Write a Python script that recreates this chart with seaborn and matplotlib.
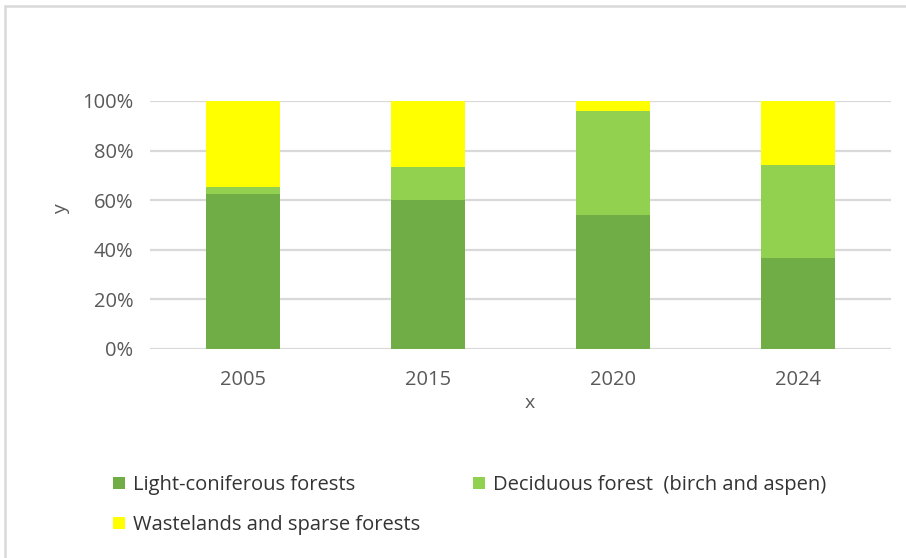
import matplotlib
matplotlib.use("Agg")
import matplotlib.pyplot as plt
from matplotlib.patches import Patch
from matplotlib.lines import Line2D
import seaborn as sns
import pandas as pd
import numpy as np

years = ["2005", "2015", "2020", "2024"]
light_coniferous = [62.5, 60.0, 54.0, 36.5]
deciduous = [2.7, 13.2, 42.0, 37.7]
wastelands = [34.8, 26.8, 4.0, 25.8]
series_names = ["Light-coniferous forests", "Deciduous forest  (birch and aspen)",
                 "Wastelands and sparse forests"]
colors = ["#70AD47", "#92D050", "#FFFF00"]
y_ticks = [0, 20, 40, 60, 80, 100]

sns.set_theme(style="white")
plt.rcParams['font.family'] = ['Open Sans', 'DejaVu Sans']

fig = plt.figure(figsize=(9.06, 5.58), dpi=100)
ax = fig.add_axes([150/906, 1-349/558, 741/906, 248/558])

df = pd.DataFrame({"year": years, "a": light_coniferous, "b": deciduous, "c": wastelands})
df["ab"] = df["a"] + df["b"]
df["abc"] = df["ab"] + df["c"]
total = df["abc"].values
for col in ["a", "ab", "abc"]:
    df[col] = df[col] / total * 100

for col, colr in zip(["abc", "ab", "a"], colors[::-1]):
    sns.barplot(data=df, x="year", y=col, order=years, color=colr, width=0.4,
                saturation=1, ax=ax, linewidth=0, zorder=3)

ax.set_ylim(0, 100)
ax.set_xlim(-0.5, 3.5)
ax.set_yticks(y_ticks)
ax.set_yticklabels([f"{t}%" for t in y_ticks])
for s in ax.spines.values():
    s.set_visible(False)
ax.yaxis.grid(True, color="#D9D9D9", linewidth=1.6, zorder=0)
ax.set_axisbelow(True)
ax.tick_params(axis="both", length=0, labelsize=14.5, colors="#595959")
ax.tick_params(axis="y", pad=12)
ax.tick_params(axis="x", pad=15)
ax.set_xlabel("x", fontsize=14, color="#595959")
ax.set_ylabel("y", fontsize=14, color="#595959")
ax.xaxis.set_label_coords(0.513, -0.18)
ax.yaxis.set_label_coords(-0.108, 0.565)

handles = [Patch(facecolor=c, edgecolor="none") for c in colors]
order = [0, 2, 1]
leg = fig.legend([handles[i] for i in order], [series_names[i] for i in order],
                 ncol=2, loc="upper left", bbox_to_anchor=(113/906, 1-475/558),
                 frameon=False, borderpad=0, borderaxespad=0,
                 handlelength=0.6, handleheight=0.6, handletextpad=0.4,
                 columnspacing=2.6, labelspacing=1.0,
                 prop={"family": ["Open Sans"], "size": 14.5})
for t in leg.get_texts():
    t.set_color("#333333")

fig.add_artist(Line2D([5/906, 5/906], [0, 1-6/558], color="#D9D9D9", linewidth=1.8,
                      transform=fig.transFigure))
fig.add_artist(Line2D([5/906, 1], [1-6/558, 1-6/558], color="#D9D9D9", linewidth=1.8,
                      transform=fig.transFigure))

fig.savefig("out.png", dpi=100, facecolor="white")
